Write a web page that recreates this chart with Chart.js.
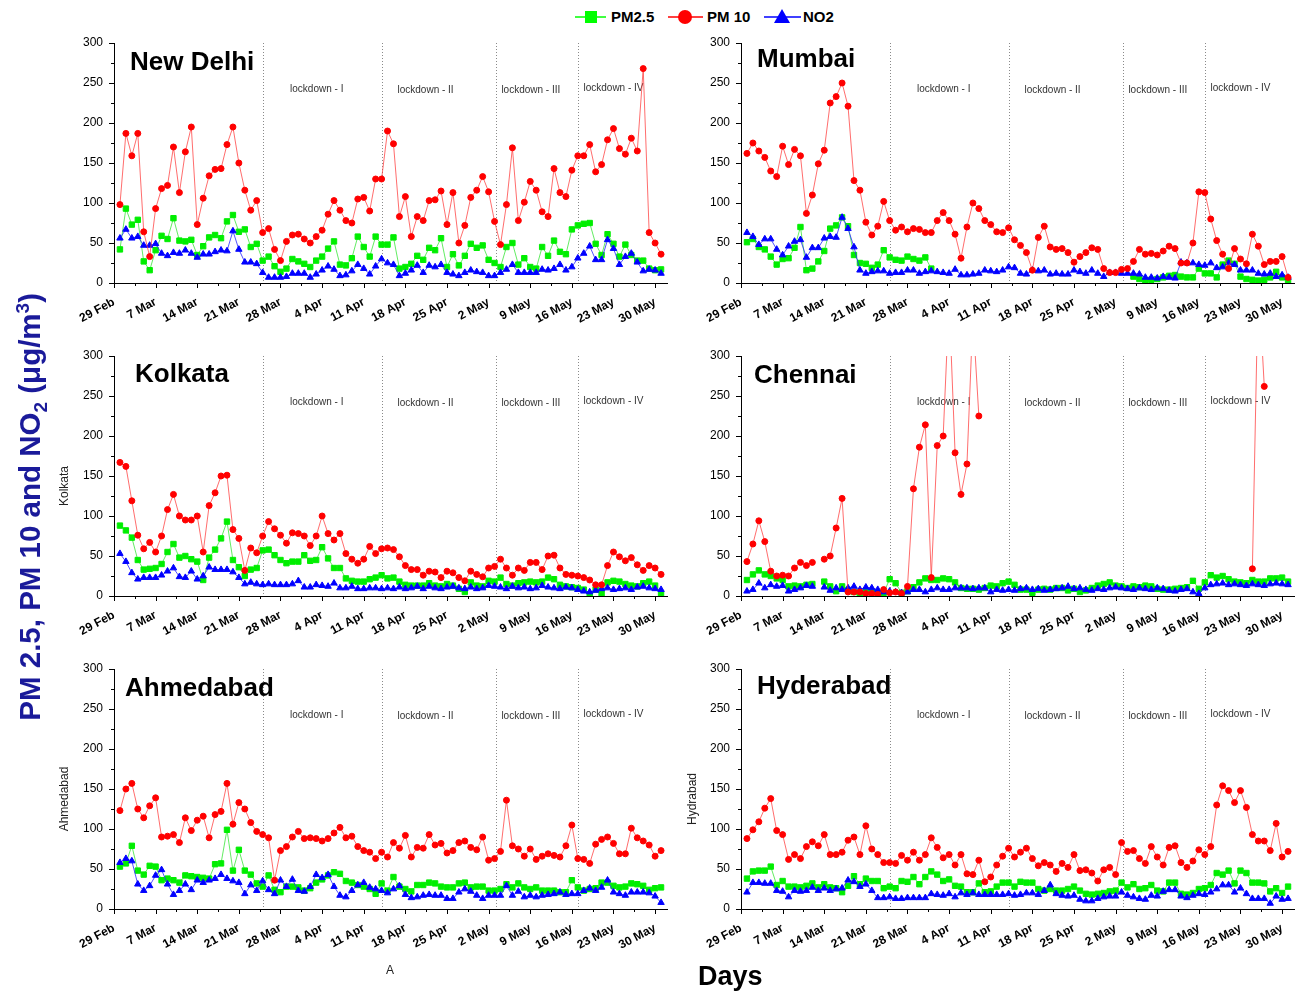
<!DOCTYPE html>
<html>
<head>
<meta charset="utf-8">
<script src="https://cdn.jsdelivr.net/npm/chart.js@4.4.1/dist/chart.umd.min.js"></script>
<style>
  html, body { margin: 0; padding: 0; overflow: hidden; background: #fff; }
  body { width: 1298px; height: 993px; position: relative; font-family: Arial, "Liberation Sans", sans-serif; }
  canvas.panel { position: absolute; }
  .city { position: absolute; font-size: 26px; font-weight: bold; color: #000; line-height: 26px; white-space: nowrap; }
  .side { position: absolute; font-size: 12px; color: #222; white-space: nowrap; transform: rotate(-90deg); transform-origin: center; text-align: center; width: 100px; line-height: 12px; }
  #ylab { position: absolute; left: -210px; top: 481px; width: 484px; text-align: center; transform: rotate(-90deg); transform-origin: center;
          font-size: 29.5px; font-weight: bold; color: #1a1a9a; white-space: nowrap; line-height: 34px; }
  #days { position: absolute; left: 698px; top: 961px; font-size: 27px; font-weight: bold; color: #000; }
  #amark { position: absolute; left: 386px; top: 963px; font-size: 12px; color: #222; }
  #legend { position: absolute; left: 560px; top: 4px; }
</style>
</head>
<body>

<svg id="legend" width="290" height="28">
  <line x1="15" y1="13" x2="46" y2="13" stroke="#00ff00" stroke-width="1.5"/>
  <rect x="25" y="7" width="12" height="12" fill="#00ff00"/>
  <text x="51" y="18" font-family="Arial" font-weight="bold" font-size="15" fill="#000">PM2.5</text>
  <line x1="108" y1="13" x2="143" y2="13" stroke="#ff0000" stroke-width="1.5"/>
  <circle cx="125" cy="13" r="7" fill="#ff0000"/>
  <text x="147" y="18" font-family="Arial" font-weight="bold" font-size="15" fill="#000">PM 10</text>
  <line x1="204" y1="13" x2="241" y2="13" stroke="#0000ff" stroke-width="1.5"/>
  <polygon points="222,5 230,19 214,19" fill="#0000ff"/>
  <text x="243" y="18" font-family="Arial" font-weight="bold" font-size="15" fill="#000">NO2</text>
</svg>

<canvas class="panel" id="delhi"></canvas>
<canvas class="panel" id="mumbai"></canvas>
<canvas class="panel" id="kolkata"></canvas>
<canvas class="panel" id="chennai"></canvas>
<canvas class="panel" id="ahmedabad"></canvas>
<canvas class="panel" id="hyderabad"></canvas>

<div class="city" style="left:130px;top:48px;">New Delhi</div>
<div class="city" style="left:757px;top:45px;">Mumbai</div>
<div class="city" style="left:135px;top:360px;">Kolkata</div>
<div class="city" style="left:754px;top:361px;">Chennai</div>
<div class="city" style="left:125px;top:674px;">Ahmedabad</div>
<div class="city" style="left:757px;top:672px;">Hyderabad</div>

<div class="side" style="left:14px;top:480px;">Kolkata</div>
<div class="side" style="left:14px;top:793px;">Ahmedabad</div>
<div class="side" style="left:642px;top:793px;">Hydrabad</div>

<div id="ylab">PM 2.5, PM 10 and NO<sub style="font-size:19px">2</sub> (&mu;g/m<sup style="font-size:19px">3</sup>)</div>
<div id="days">Days</div>
<div id="amark">A</div>

<script>
// x axis: day number, 0 = 29 Feb; data runs 1 Mar (1) .. 31 May (92)
var tickDays = [0, 7, 14, 21, 28, 35, 42, 49, 56, 63, 70, 77, 84, 91];
var tickLabels = ['29 Feb', '7 Mar', '14 Mar', '21 Mar', '28 Mar', '4 Apr', '11 Apr',
                  '18 Apr', '25 Apr', '2 May', '9 May', '16 May', '23 May', '30 May'];
var yTicks = [0, 50, 100, 150, 200, 250, 300];

var lockdownStart = [25, 45, 64.2, 78];
var lockdownNames = ['lockdown - I', 'lockdown - II', 'lockdown - III', 'lockdown - IV'];
var lockdownLabelDay = [34.1, 52.4, 70.1, 84.0];
var lockdownLabelY = [242, 241, 241, 243];

var days = [];
for (var d = 1; d <= 92; d++) days.push(d);

// === New Delhi ===
var delhiPM10 = [98,187,159,187,64,33,93,118,122,170,113,164,195,73,106,134,142,143,173,195,150,116,91,103,63,68,42,28,52,60,61,55,50,58,66,86,103,91,78,75,105,107,90,130,130,190,
  174,83,108,58,83,78,103,104,115,73,113,50,72,107,116,133,114,77,48,98,169,78,101,127,116,89,83,143,113,108,141,159,159,173,139,148,179,193,168,161,181,165,268,63,50,36];
var delhiPM25 = [42,93,73,79,27,16,41,59,55,81,53,52,54,35,46,57,60,56,77,85,64,67,45,49,28,33,21,14,18,30,27,24,20,28,33,43,52,23,22,31,58,45,33,58,48,48,
  57,18,20,24,34,29,44,41,56,20,36,22,34,49,44,47,29,25,20,45,50,23,31,20,18,45,34,53,39,36,67,72,74,75,49,35,61,49,33,48,35,28,28,18,16,17];
var delhiNO2 = [56,67,56,58,47,47,49,37,34,38,37,41,37,32,36,36,39,41,40,65,42,26,26,24,13,7,7,7,8,12,12,12,7,11,16,21,17,9,10,15,23,18,11,21,30,25,
  23,9,12,16,22,13,22,20,23,13,11,9,13,16,14,13,9,9,13,17,23,13,13,13,13,17,16,18,23,16,20,31,37,46,29,29,54,43,23,33,37,26,15,17,16,12];

// === Mumbai (PM2.5 not recorded 2 Apr - 4 May) ===
var mumbaiPM10 = [162,175,165,157,140,133,171,148,167,159,87,110,149,166,225,233,250,221,128,116,76,60,71,102,78,66,70,64,68,67,63,63,78,88,78,61,31,70,100,93,78,73,64,63,69,54,
  47,38,16,57,71,45,42,43,38,26,33,38,44,42,18,13,13,17,18,27,42,36,37,35,40,46,43,25,25,50,114,113,80,53,36,18,43,30,24,61,46,23,27,27,33,7];
var mumbaiPM25 = [51,55,45,42,33,23,30,31,44,70,16,18,27,40,68,72,82,71,35,25,24,19,23,41,32,29,28,33,30,28,32,18,null,null,null,null,null,null,null,null,null,null,null,null,null,null,
  null,null,null,null,null,null,null,null,null,null,null,null,null,null,null,null,null,null,null,8,5,2,4,5,7,9,10,8,7,7,18,12,12,7,23,28,24,8,5,4,3,4,7,14,7,2];
var mumbaiNO2 = [63,58,48,55,55,42,35,46,52,54,32,44,44,56,58,57,82,68,45,16,12,14,15,15,12,13,13,16,16,12,14,15,14,13,12,17,10,10,11,12,16,15,14,16,20,19,
  12,11,16,15,16,11,12,11,11,16,14,12,16,12,8,13,13,12,12,12,11,7,7,6,8,7,6,26,25,25,23,22,25,19,20,25,23,16,16,16,12,11,12,8,10,7];

// === Kolkata ===
var kolkataPM10 = [167,162,119,76,59,67,55,75,108,127,100,95,95,100,55,113,129,150,151,83,72,32,60,54,75,93,84,76,66,79,78,75,63,75,100,78,70,78,53,46,41,46,62,53,59,60,
  58,49,38,33,33,26,31,30,23,31,29,23,19,31,27,24,35,37,46,35,26,35,32,42,42,33,50,51,35,27,26,25,23,20,14,14,38,55,49,44,48,39,32,38,35,27];
var kolkataPM25 = [88,82,73,45,33,34,35,40,55,65,48,50,46,43,20,48,58,72,93,45,36,25,33,35,57,58,51,45,41,43,43,51,44,45,61,47,35,35,22,19,18,18,21,23,26,22,
  23,18,14,13,13,13,16,13,12,15,13,9,5,17,13,12,19,18,23,15,13,16,17,18,17,18,23,21,14,12,11,10,8,2,8,3,17,19,18,15,13,12,16,18,13,3];
var kolkataNO2 = [53,43,29,21,23,23,23,26,31,35,24,23,31,21,25,36,33,33,33,30,23,15,17,15,14,15,14,14,14,15,19,11,11,14,13,12,16,10,10,12,9,9,10,10,9,10,
  9,11,9,10,12,9,12,10,9,11,12,10,9,11,9,10,13,12,11,9,12,10,11,9,10,13,11,10,9,11,10,8,6,5,7,9,10,8,9,10,8,11,12,10,9,8];

// === Chennai (null = no record) ===
var chennaiPM10 = [43,65,94,68,31,25,26,25,35,42,38,42,null,46,50,85,122,5,5,5,3,3,2,8,4,5,3,12,134,186,214,23,188,200,370,179,127,165,350,225,null,null,null,null,null,null,
  null,null,null,null,null,null,null,null,null,null,null,null,null,null,null,null,null,null,null,null,null,null,null,null,null,null,null,null,null,null,null,null,null,null,null,null,null,null,null,34,400,262,null,null,null,null];
var chennaiPM25 = [20,27,32,27,25,22,20,12,13,12,14,15,null,18,12,6,12,7,5,3,5,5,4,4,21,16,4,6,11,17,22,20,20,22,21,17,10,9,9,8,10,13,12,16,18,14,
  8,8,4,8,9,8,10,10,7,9,5,7,10,13,15,17,13,12,10,12,11,13,12,9,8,8,9,10,11,19,9,17,26,23,25,21,18,17,16,20,18,18,22,22,23,18];
var chennaiNO2 = [6,8,16,10,14,12,13,6,8,10,13,12,null,11,7,10,8,10,12,8,11,10,8,5,6,5,4,5,8,8,5,8,10,8,8,10,10,10,9,10,10,5,8,7,8,7,
  9,10,8,9,7,8,9,10,12,9,10,8,7,9,8,10,11,10,9,8,10,9,8,10,9,7,6,8,9,5,3,10,14,15,16,14,15,14,13,15,14,13,15,16,15,14];

// === Ahmedabad ===
var ahmedabadPM10 = [123,150,157,125,114,129,139,90,91,93,83,114,98,111,116,89,118,122,157,106,133,125,108,97,93,89,36,73,78,90,97,88,89,88,85,88,95,102,89,91,78,73,71,63,71,65,
  83,76,92,65,77,76,93,80,82,70,73,83,85,77,74,90,61,63,72,136,79,75,66,75,62,66,69,67,65,79,105,63,62,57,81,87,90,82,69,69,101,89,85,80,66,73];
var ahmedabadPM25 = [53,57,79,48,43,54,53,36,38,36,33,42,41,40,39,38,56,57,99,48,74,48,43,32,28,42,24,21,28,28,27,23,26,33,37,42,46,44,35,33,30,28,25,19,32,23,
  40,28,25,22,30,30,33,32,28,27,27,32,33,27,28,28,23,23,25,31,27,32,27,25,27,23,23,23,21,21,36,27,23,25,26,33,33,29,27,28,32,31,29,24,26,27];
var ahmedabadNO2 = [58,63,60,31,23,29,42,49,31,18,23,31,24,36,33,36,38,43,38,35,33,19,30,23,35,24,19,36,28,37,23,22,28,43,39,43,28,17,15,23,30,33,27,25,23,20,
  25,29,18,14,15,17,18,17,17,13,13,21,25,22,17,13,17,17,17,29,17,22,15,17,15,17,18,19,21,18,19,19,23,26,23,27,36,21,19,17,21,21,21,20,16,8];

// === Hyderabad ===
var hyderabadPM10 = [88,99,109,126,138,98,93,62,68,63,78,84,79,93,68,68,71,86,90,68,104,75,68,58,58,57,67,61,71,61,68,89,77,64,68,55,68,44,43,61,34,40,55,66,76,65,
  71,76,63,54,58,55,47,57,52,68,48,49,45,35,49,52,43,83,72,73,63,57,78,65,55,77,79,58,52,60,74,68,78,130,154,148,133,148,127,93,85,85,73,107,65,72];
var hyderabadPM25 = [38,47,48,48,53,30,35,28,28,27,29,32,27,31,27,26,21,29,41,31,38,35,35,26,28,26,35,34,40,31,40,47,43,35,37,29,28,21,21,32,21,22,28,33,33,28,
  34,33,33,25,23,25,23,23,25,28,23,19,18,19,20,22,23,33,27,31,25,26,30,23,22,33,33,19,18,20,25,26,30,45,43,48,32,48,45,33,33,32,22,26,20,28];
var hyderabadNO2 = [21,33,33,32,32,23,22,15,23,22,23,27,23,26,23,25,26,36,34,28,31,23,14,14,15,13,13,14,14,14,14,19,18,17,19,15,20,18,20,18,18,18,18,18,19,17,
  18,20,20,18,23,30,19,17,16,17,12,10,10,13,15,16,16,21,17,15,13,12,17,16,22,24,24,16,14,17,19,18,21,25,30,30,21,26,19,13,13,13,7,16,12,13];

// 面板裝飾：分期虛線、lockdown 文字、主/次刻度
var panelDecor = {
  id: 'panelDecor',
  beforeDatasetsDraw: function (chart) {
    var ctx = chart.ctx, xs = chart.scales.x, ys = chart.scales.y, area = chart.chartArea;
    ctx.save();
    ctx.strokeStyle = '#8a8a8a';
    ctx.lineWidth = 1;
    ctx.setLineDash([1, 2]);
    lockdownStart.forEach(function (day) {
      var x = Math.round(xs.getPixelForValue(day)) + 0.5;
      ctx.beginPath();
      ctx.moveTo(x, area.top);
      ctx.lineTo(x, area.bottom);
      ctx.stroke();
    });
    ctx.setLineDash([]);
    ctx.fillStyle = '#333';
    ctx.font = '10px Arial';
    ctx.textAlign = 'center';
    ctx.textBaseline = 'middle';
    lockdownNames.forEach(function (name, i) {
      ctx.fillText(name, xs.getPixelForValue(lockdownLabelDay[i]), ys.getPixelForValue(lockdownLabelY[i]));
    });
    ctx.restore();
  },
  afterDraw: function (chart) {
    var ctx = chart.ctx, xs = chart.scales.x, ys = chart.scales.y, area = chart.chartArea;
    ctx.save();
    ctx.strokeStyle = '#000';
    ctx.lineWidth = 1;
    ctx.beginPath();
    for (var v = 0; v <= 300; v += 25) {
      var y = Math.round(ys.getPixelForValue(v)) + 0.5;
      var len = (v % 50 === 0) ? 5 : 3;
      ctx.moveTo(area.left - len, y);
      ctx.lineTo(area.left, y);
    }
    for (var t = 0; t <= 93; t += 3.5) {
      var x = Math.round(xs.getPixelForValue(t)) + 0.5;
      var l = (t % 7 === 0) ? 5 : 3;
      ctx.moveTo(x, area.bottom);
      ctx.lineTo(x, area.bottom + l);
    }
    ctx.stroke();
    ctx.restore();
  }
};

function series(label, values, color, lineColor, style, radius, order) {
  return {
    label: label,
    data: values.map(function (v, i) { return { x: days[i], y: v }; }),
    borderColor: lineColor,
    backgroundColor: color,
    pointBackgroundColor: color,
    pointBorderColor: color,
    pointBorderWidth: 1,
    pointStyle: style,
    pointRadius: radius,
    borderWidth: 1,
    tension: 0,
    spanGaps: false,
    order: order
  };
}

// plot area 553 x 240; PT must exceed half a tick label + tick padding
var PW = 553, PH = 240, YW = 70, XH = 60, PT = 22, PR = 10;

function makePanel(id, plotLeft, plotTop, pm25, pm10, no2) {
  var canvas = document.getElementById(id);
  canvas.width = PW + YW + PR;
  canvas.height = PH + PT + XH;
  canvas.style.left = (plotLeft - YW) + 'px';
  canvas.style.top = (plotTop - PT) + 'px';

  new Chart(canvas.getContext('2d'), {
    type: 'line',
    data: {
      datasets: [
        series('PM 10', pm10, '#ff0000', 'rgba(255, 60, 60, 0.75)', 'circle', 3, 0),
        series('NO2', no2, '#0000ff', 'rgba(40, 40, 255, 0.8)', 'triangle', 3.7, 1),
        series('PM2.5', pm25, '#00ee00', 'rgba(60, 230, 60, 0.8)', 'rect', 3.8, 2)
      ]
    },
    options: {
      responsive: false,
      animation: false,
      devicePixelRatio: 1,
      layout: { padding: { top: PT, right: PR, left: 0, bottom: 0 }, autoPadding: false },
      plugins: { legend: { display: false }, tooltip: { enabled: false } },
      scales: {
        x: {
          type: 'linear', min: 0, max: 93,
          afterBuildTicks: function (ax) { ax.ticks = tickDays.map(function (v) { return { value: v }; }); },
          afterFit: function (ax) { ax.height = XH; },
          ticks: {
            autoSkip: false, minRotation: 28, maxRotation: 28, padding: 12, color: '#000',
            font: { family: 'Arial', size: 12, weight: 'bold' },
            callback: function (val, idx) { return tickLabels[idx]; }
          },
          grid: { display: false, drawTicks: false },
          border: { display: true, color: '#000', width: 1 }
        },
        y: {
          min: 0, max: 300,
          afterBuildTicks: function (ax) { ax.ticks = yTicks.map(function (v) { return { value: v }; }); },
          afterFit: function (ax) { ax.width = YW; },
          ticks: { padding: 11, color: '#000', font: { family: 'Arial', size: 12 } },
          grid: { display: false, drawTicks: false },
          border: { display: true, color: '#000', width: 1 }
        }
      }
    },
    plugins: [panelDecor]
  });
}

makePanel('delhi', 114, 43, delhiPM25, delhiPM10, delhiNO2);
makePanel('mumbai', 741, 43, mumbaiPM25, mumbaiPM10, mumbaiNO2);
makePanel('kolkata', 114, 356, kolkataPM25, kolkataPM10, kolkataNO2);
makePanel('chennai', 741, 356, chennaiPM25, chennaiPM10, chennaiNO2);
makePanel('ahmedabad', 114, 669, ahmedabadPM25, ahmedabadPM10, ahmedabadNO2);
makePanel('hyderabad', 741, 669, hyderabadPM25, hyderabadPM10, hyderabadNO2);
</script>
</body>
</html>
